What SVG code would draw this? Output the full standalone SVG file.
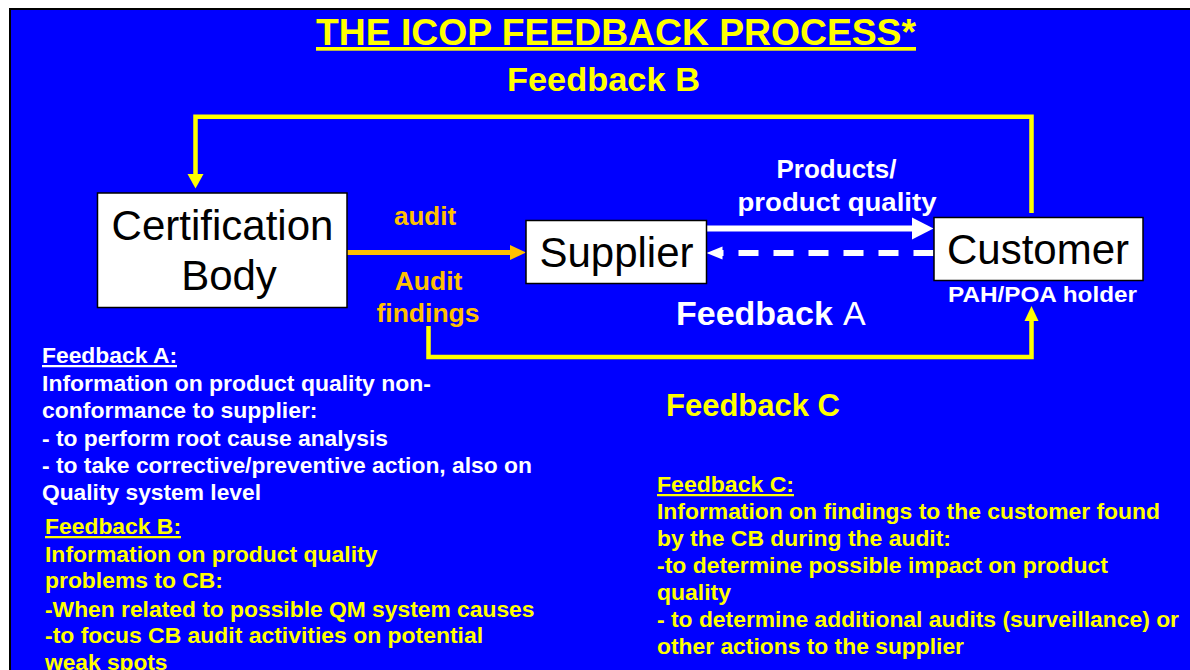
<svg xmlns="http://www.w3.org/2000/svg" width="1190" height="670" viewBox="0 0 1190 670">
<style>
.t{font-family:"Liberation Sans",Arial,sans-serif;font-weight:bold}
.box{fill:#FFFFFF;stroke:#000000;stroke-width:1.5}
.nl{font-family:"Liberation Sans",Arial,sans-serif;font-size:42px;fill:#000000}
.y{fill:#FFFF00}
.w{fill:#FFFFFF}
.o{fill:#FFC000}
.body{font-family:"Liberation Sans",Arial,sans-serif;font-weight:bold;font-size:22.5px}
</style>
<rect x="0" y="0" width="1190" height="670" fill="#FFFFFF"/>
<rect x="9" y="8" width="1181" height="662" fill="#000000"/>
<rect x="11" y="10" width="1179" height="660" fill="#0000FF"/>

<text class="t y" x="616" y="45" font-size="37" text-anchor="middle" text-decoration="underline" textLength="600" lengthAdjust="spacingAndGlyphs">THE ICOP FEEDBACK PROCESS*</text>
<text class="t y" x="603.5" y="91" font-size="34" text-anchor="middle" textLength="193" lengthAdjust="spacingAndGlyphs">Feedback B</text>

<g id="connectors">
  <polyline points="1031.5,213 1031.5,116.7 195.5,116.7 195.5,175" fill="none" stroke="#FFFF00" stroke-width="4.5"/>
  <polygon points="187.5,174 203.5,174 195.5,188.5" fill="#FFFF00"/>
  <line x1="347" y1="252.5" x2="511" y2="252.5" stroke="#FFC000" stroke-width="5"/>
  <polygon points="510,245 510,260 526,252.5" fill="#FFC000"/>
  <line x1="706.5" y1="228.5" x2="913" y2="228.5" stroke="#FFFFFF" stroke-width="6"/>
  <polygon points="912,217.5 912,239.5 933.5,228.5" fill="#FFFFFF"/>
  <line x1="933.5" y1="253" x2="722" y2="253" stroke="#FFFFFF" stroke-width="6" stroke-dasharray="20 15"/>
  <polygon points="722.5,246.5 722.5,259.5 706.5,253" fill="#FFFFFF"/>
  <polyline points="428.5,326 428.5,357 1031.5,357 1031.5,320" fill="none" stroke="#FFFF00" stroke-width="4.5"/>
  <polygon points="1024.5,321 1038.5,321 1031.5,306" fill="#FFFF00"/>
</g>

<g id="certification-body">
  <rect class="box" x="97.5" y="193" width="249.5" height="114.5"/>
  <text class="nl" x="222.5" y="240" text-anchor="middle">Certification</text>
  <text class="nl" x="229" y="290" text-anchor="middle">Body</text>
</g>
<g id="supplier">
  <rect class="box" x="526" y="220.5" width="180.5" height="63"/>
  <text class="nl" x="616.5" y="267" text-anchor="middle">Supplier</text>
</g>
<g id="customer">
  <rect class="box" x="934" y="217.5" width="209" height="63"/>
  <text class="nl" x="1038" y="263.5" text-anchor="middle">Customer</text>
  <text class="t w" x="1042.5" y="302" font-size="22" text-anchor="middle" textLength="189" lengthAdjust="spacingAndGlyphs">PAH/POA  holder</text>
</g>

<g id="labels">
  <text class="t w" x="836.5" y="177.5" font-size="26" text-anchor="middle">Products/</text>
  <text class="t w" x="837" y="210.5" font-size="26" text-anchor="middle" textLength="199" lengthAdjust="spacingAndGlyphs">product quality</text>
  <text class="t o" x="425" y="225" font-size="26" text-anchor="middle">audit</text>
  <text class="t o" x="428.5" y="290" font-size="26.5" text-anchor="middle">Audit</text>
  <text class="t o" x="428" y="322" font-size="26.5" text-anchor="middle">findings</text>
  <text class="t w" x="676" y="325" font-size="34">Feedback<tspan x="843" font-weight="normal">A</tspan></text>
  <text class="t y" x="753" y="416" font-size="31" text-anchor="middle" textLength="174" lengthAdjust="spacingAndGlyphs">Feedback C</text>
</g>

<g id="text-feedback-a" class="body w">
  <text x="42" y="363" text-decoration="underline" textLength="135" lengthAdjust="spacingAndGlyphs">Feedback A:</text>
  <text x="42" y="391" textLength="389" lengthAdjust="spacingAndGlyphs">Information on product quality non-</text>
  <text x="42" y="418" textLength="275.5" lengthAdjust="spacingAndGlyphs">conformance to supplier:</text>
  <text x="42" y="446" textLength="346" lengthAdjust="spacingAndGlyphs">- to perform root cause analysis</text>
  <text x="42" y="473" textLength="490" lengthAdjust="spacingAndGlyphs">- to take corrective/preventive action, also on</text>
  <text x="42" y="500" textLength="219" lengthAdjust="spacingAndGlyphs">Quality system level</text>
</g>

<g id="text-feedback-b" class="body y">
  <text x="45" y="534" text-decoration="underline" textLength="136" lengthAdjust="spacingAndGlyphs">Feedback B:</text>
  <text x="45" y="562" textLength="332.5" lengthAdjust="spacingAndGlyphs">Information on product quality</text>
  <text x="45" y="588" textLength="178" lengthAdjust="spacingAndGlyphs">problems to CB:</text>
  <text x="45" y="617" textLength="489.5" lengthAdjust="spacingAndGlyphs">-When related to possible QM system causes</text>
  <text x="45" y="643" textLength="438" lengthAdjust="spacingAndGlyphs">-to focus CB audit activities on potential</text>
  <text x="45" y="670" textLength="122.5" lengthAdjust="spacingAndGlyphs">weak spots</text>
</g>

<g id="text-feedback-c" class="body y">
  <text x="657" y="492" text-decoration="underline" textLength="137" lengthAdjust="spacingAndGlyphs">Feedback C:</text>
  <text x="657" y="519" textLength="503" lengthAdjust="spacingAndGlyphs">Information on findings to the customer found</text>
  <text x="657" y="546" textLength="294" lengthAdjust="spacingAndGlyphs">by the CB during the audit:</text>
  <text x="657" y="573" textLength="451" lengthAdjust="spacingAndGlyphs">-to determine possible impact on product</text>
  <text x="657" y="600" textLength="74" lengthAdjust="spacingAndGlyphs">quality</text>
  <text x="657" y="627" textLength="522" lengthAdjust="spacingAndGlyphs">- to determine additional audits (surveillance) or</text>
  <text x="657" y="654" textLength="307" lengthAdjust="spacingAndGlyphs">other actions to the supplier</text>
</g>
</svg>
